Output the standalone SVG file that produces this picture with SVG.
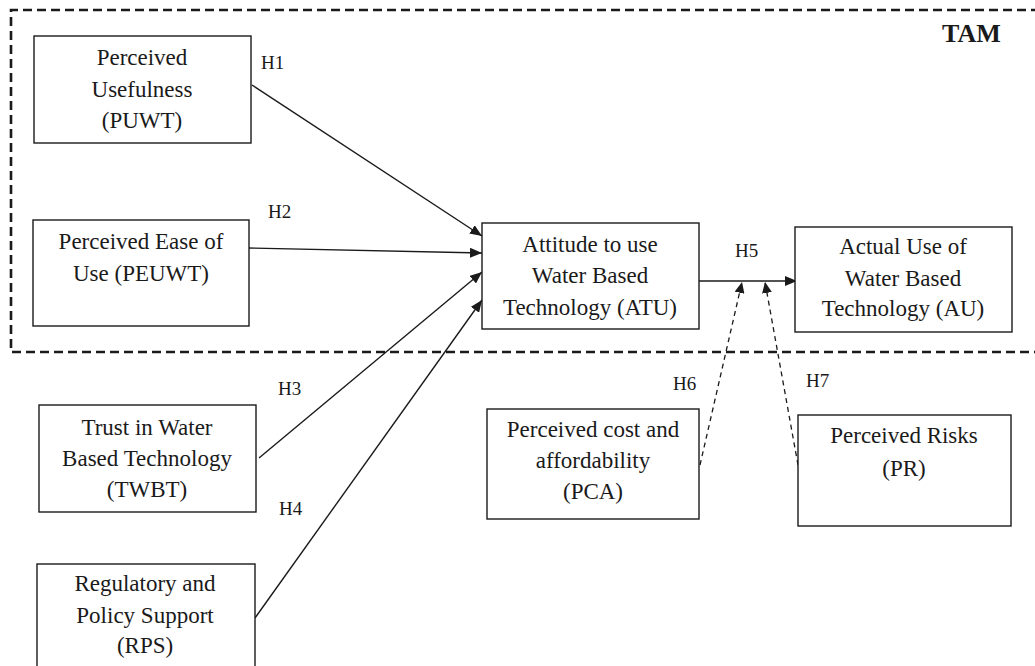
<svg xmlns="http://www.w3.org/2000/svg" width="1035" height="666" viewBox="0 0 1035 666">
<defs>
<style>
.box{fill:#fff;stroke:#1a1a1a;stroke-width:1.4}
.t{font-family:"Liberation Serif","Times New Roman",serif;font-size:23px;fill:#1a1a1a;text-anchor:middle}
.h{font-family:"Liberation Serif","Times New Roman",serif;font-size:19px;fill:#1a1a1a}
.ln{stroke:#1a1a1a;stroke-width:1.4;fill:none}
.dl{stroke:#1a1a1a;stroke-width:1.3;fill:none;stroke-dasharray:5 4}
</style>
<marker id="ah" viewBox="0 0 12 10" refX="12" refY="5" markerWidth="12" markerHeight="10" markerUnits="userSpaceOnUse" orient="auto">
<path d="M0,0 L12,5 L0,10 Z" fill="#1a1a1a"/>
</marker>
<marker id="ahd" viewBox="0 0 11 10" refX="11" refY="5" markerWidth="11" markerHeight="10" markerUnits="userSpaceOnUse" orient="auto">
<path d="M0,0 L11,5 L0,10 Z" fill="#1a1a1a"/>
</marker>
</defs>
<rect width="1035" height="666" fill="#fff"/>
<g id="tam-frame">
<path d="M1040,10 L11,10 L11,352 L1040,352" fill="none" stroke="#1a1a1a" stroke-width="2.6" stroke-dasharray="9 5"/>
<text x="942" y="42" font-family="'Liberation Serif','Times New Roman',serif" font-size="26" font-weight="bold" fill="#1a1a1a">TAM</text>
</g>
<g id="connectors">
<line class="ln" x1="252" y1="85" x2="482" y2="236" marker-end="url(#ah)"/>
<line class="ln" x1="248" y1="248" x2="482" y2="253" marker-end="url(#ah)"/>
<line class="ln" x1="259" y1="458" x2="482" y2="272" marker-end="url(#ah)"/>
<line class="ln" x1="255" y1="618" x2="482" y2="300" marker-end="url(#ah)"/>
<line class="ln" x1="699" y1="281" x2="797" y2="281" marker-end="url(#ah)"/>
<line class="dl" x1="700" y1="465" x2="742" y2="282" marker-end="url(#ahd)"/>
<line class="dl" x1="798" y1="465" x2="765" y2="282" marker-end="url(#ahd)"/>
<text class="h" x="261" y="69">H1</text>
<text class="h" x="268" y="218">H2</text>
<text class="h" x="278" y="395">H3</text>
<text class="h" x="279" y="515">H4</text>
<text class="h" x="735" y="257">H5</text>
<text class="h" x="673" y="390">H6</text>
<text class="h" x="806" y="387">H7</text>
</g>
<g id="puwt">
<rect class="box" x="34" y="36" width="217" height="107"/>
<text class="t" x="142" y="65">Perceived</text>
<text class="t" x="142" y="97">Usefulness</text>
<text class="t" x="142" y="128">(PUWT)</text>
</g>
<g id="peuwt">
<rect class="box" x="33" y="220" width="216" height="106"/>
<text class="t" x="141" y="249">Perceived Ease of</text>
<text class="t" x="141" y="281">Use (PEUWT)</text>
</g>
<g id="twbt">
<rect class="box" x="39" y="405" width="217" height="107"/>
<text class="t" x="147" y="435">Trust in Water</text>
<text class="t" x="147" y="466">Based Technology</text>
<text class="t" x="147" y="497">(TWBT)</text>
</g>
<g id="rps">
<rect class="box" x="37" y="564" width="218" height="106"/>
<text class="t" x="145" y="591">Regulatory and</text>
<text class="t" x="145" y="623">Policy Support</text>
<text class="t" x="145" y="653">(RPS)</text>
</g>
<g id="atu">
<rect class="box" x="482" y="223" width="217" height="106"/>
<text class="t" x="590" y="252">Attitude to use</text>
<text class="t" x="590" y="283">Water Based</text>
<text class="t" x="590" y="315">Technology (ATU)</text>
</g>
<g id="au">
<rect class="box" x="795" y="227" width="217" height="105"/>
<text class="t" x="903" y="254">Actual Use of</text>
<text class="t" x="903" y="286">Water Based</text>
<text class="t" x="903" y="316">Technology (AU)</text>
</g>
<g id="pca">
<rect class="box" x="487" y="409" width="212" height="110"/>
<text class="t" x="593" y="437">Perceived cost and</text>
<text class="t" x="593" y="468">affordability</text>
<text class="t" x="593" y="499">(PCA)</text>
</g>
<g id="pr">
<rect class="box" x="798" y="415" width="213" height="111"/>
<text class="t" x="904" y="443">Perceived Risks</text>
<text class="t" x="904" y="476">(PR)</text>
</g>
</svg>
